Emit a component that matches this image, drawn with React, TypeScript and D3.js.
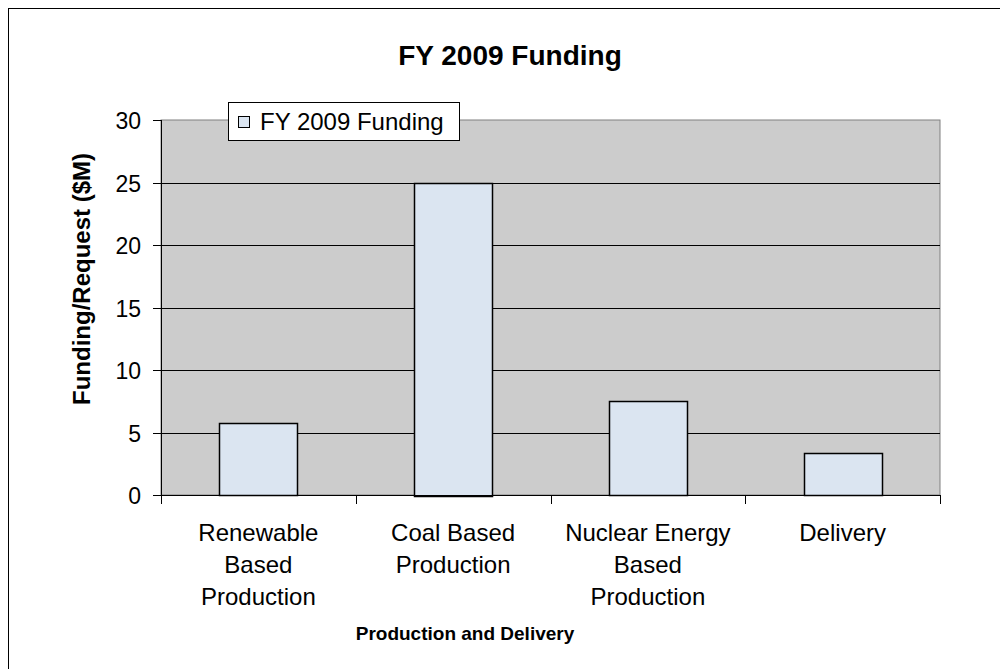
import * as d3 from 'd3';

const categories = [
  ['Renewable', 'Based', 'Production'],
  ['Coal Based', 'Production'],
  ['Nuclear Energy', 'Based', 'Production'],
  ['Delivery'],
];
const funding = [5.75, 25, 7.5, 3.35];
const yTicks = [0, 5, 10, 15, 20, 25, 30];

const seriesName = 'FY 2009 Funding';
const chartTitle = 'FY 2009 Funding';
const xTitle = 'Production and Delivery';
const yTitle = 'Funding/Request ($M)';

const W = 1000;
const H = 669;
const margin = { top: 120, right: 60, bottom: 174, left: 161 };
const font = 'Arial, "Liberation Sans", sans-serif';

export default function App(): JSX.Element {
  const x = d3
    .scaleBand<number>()
    .domain(categories.map((_, i) => i))
    .range([margin.left, W - margin.right])
    .paddingInner(0.6)
    .paddingOuter(0.3);

  const y = d3
    .scaleLinear()
    .domain([0, 30])
    .range([H - margin.bottom, margin.top]);

  const step = x.step();
  const left = margin.left;
  const right = W - margin.right;
  const y0 = y(0);

  return (
    <svg
      width={W}
      height={H}
      style={{ position: 'absolute', left: 0, top: 0, background: '#fff' }}
    >
      {/* outer frame */}
      <rect x={8.5} y={8.5} width={1000} height={700} fill="#fff" stroke="#000" />

      <text
        x={510}
        y={65}
        textAnchor="middle"
        fontFamily={font}
        fontSize={28}
        fontWeight="bold"
      >
        {chartTitle}
      </text>

      {/* plot area */}
      <rect
        x={left}
        y={margin.top}
        width={right - left}
        height={y0 - margin.top}
        fill="#cccccc"
        stroke="#808080"
      />

      {yTicks.slice(1, -1).map(t => (
        <line
          key={'g' + t}
          x1={left}
          x2={right}
          y1={Math.round(y(t)) + 0.5}
          y2={Math.round(y(t)) + 0.5}
          stroke="#000"
        />
      ))}

      {funding.map((v, i) => (
        <rect
          key={'b' + i}
          x={Math.round(x(i) as number) + 0.5}
          y={Math.round(y(v)) + 0.5}
          width={Math.round(x.bandwidth())}
          height={Math.round(y0 - y(v))}
          fill="#dbe5f1"
          stroke="#000"
          strokeWidth={1.5}
        />
      ))}

      {/* y axis */}
      <line x1={left + 0.5} x2={left + 0.5} y1={margin.top} y2={y0} stroke="#000" />
      {yTicks.map(t => (
        <g key={'y' + t} transform={`translate(0,${Math.round(y(t)) + 0.5})`}>
          <line x1={left - 8} x2={left} stroke="#000" />
          <text
            x={left - 20}
            dy="0.35em"
            textAnchor="end"
            fontFamily={font}
            fontSize={23}
          >
            {t}
          </text>
        </g>
      ))}

      {/* x axis */}
      <line x1={left} x2={right} y1={y0 + 0.5} y2={y0 + 0.5} stroke="#000" />
      {d3.range(categories.length + 1).map(i => (
        <line
          key={'xt' + i}
          x1={Math.round(left + i * step) + 0.5}
          x2={Math.round(left + i * step) + 0.5}
          y1={y0}
          y2={y0 + 9}
          stroke="#000"
        />
      ))}
      {categories.map((lines, i) => (
        <text
          key={'c' + i}
          x={(x(i) as number) + x.bandwidth() / 2}
          y={541}
          textAnchor="middle"
          fontFamily={font}
          fontSize={24}
        >
          {lines.map((l, j) => (
            <tspan key={j} x={(x(i) as number) + x.bandwidth() / 2} dy={j === 0 ? 0 : 32}>
              {l}
            </tspan>
          ))}
        </text>
      ))}

      <text
        x={465}
        y={640}
        textAnchor="middle"
        fontFamily={font}
        fontSize={19}
        fontWeight="bold"
      >
        {xTitle}
      </text>

      <text
        transform="translate(90,279) rotate(-90)"
        textAnchor="middle"
        fontFamily={font}
        fontSize={24}
        fontWeight="bold"
      >
        {yTitle}
      </text>

      {/* legend */}
      <rect x={228.5} y={102.5} width={231} height={38} fill="#fff" stroke="#000" />
      <rect x={238.5} y={116.5} width={11} height={11} fill="#dbe5f1" stroke="#000" />
      <text x={260} y={130} fontFamily={font} fontSize={24}>
        {seriesName}
      </text>
    </svg>
  );
}
